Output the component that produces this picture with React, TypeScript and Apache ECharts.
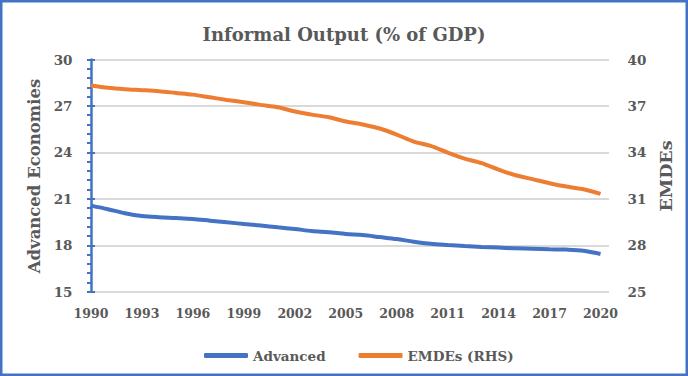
import React, { useEffect, useRef } from "react";
import * as echarts from "echarts";

const years: number[] = [
  1990, 1991, 1992, 1993, 1994, 1995, 1996, 1997, 1998, 1999, 2000, 2001, 2002, 2003, 2004, 2005,
  2006, 2007, 2008, 2009, 2010, 2011, 2012, 2013, 2014, 2015, 2016, 2017, 2018, 2019, 2020,
];
const advanced: number[] = [
  20.56, 20.33, 20.07, 19.89, 19.81, 19.76, 19.7, 19.59, 19.48, 19.38, 19.27, 19.16, 19.05, 18.92,
  18.84, 18.73, 18.66, 18.53, 18.4, 18.23, 18.1, 18.02, 17.95, 17.89, 17.85, 17.8, 17.78, 17.74,
  17.72, 17.65, 17.44,
];
const emdes: number[] = [
  38.32, 38.17, 38.08, 38.02, 37.95, 37.84, 37.73, 37.56, 37.39, 37.24, 37.07, 36.92, 36.64, 36.44,
  36.27, 36.0, 35.8, 35.54, 35.15, 34.7, 34.42, 33.99, 33.6, 33.3, 32.89, 32.52, 32.27, 32.01,
  31.79, 31.62, 31.32,
];
const seriesNames: string[] = ["Advanced", "EMDEs (RHS)"];
const titleText = "Informal Output (% of GDP)";
const leftAxisName = "Advanced Economies";
const rightAxisName = "EMDEs";

const FONT = "DejaVu Serif";
const TEXT = "#595959";
const BLUE = "#4472C4";
const ORANGE = "#ED7D31";
const GRID = "#D9D9D9";

export default function App() {
  const ref = useRef<HTMLDivElement>(null);
  useEffect(() => {
    if (!ref.current) return;
    const chart = echarts.init(ref.current, null, { renderer: "svg" });
    chart.setOption({
      animation: false,
      backgroundColor: "#fff",
      textStyle: { fontFamily: FONT },
      title: {
        text: titleText,
        left: "center",
        top: 20,
        textStyle: { fontFamily: FONT, fontWeight: "bold", fontSize: 18, color: TEXT },
      },
      graphic: [
        {
          type: "rect",
          shape: { x: 1.25, y: 1.25, width: 685.5, height: 373.5 },
          style: { fill: "none", stroke: BLUE, lineWidth: 2.5 },
          z: 100,
        },
        {
          type: "text",
          x: 34,
          y: 176,
          rotation: Math.PI / 2,
          style: {
            text: leftAxisName,
            fontFamily: FONT,
            fontWeight: "bold",
            fontSize: 16.5,
            fill: TEXT,
            align: "center",
            verticalAlign: "middle",
          },
        },
        {
          type: "text",
          x: 666,
          y: 176,
          rotation: Math.PI / 2,
          style: {
            text: rightAxisName,
            fontFamily: FONT,
            fontWeight: "bold",
            fontSize: 17.5,
            fill: TEXT,
            align: "center",
            verticalAlign: "middle",
          },
        },
      ],
      legend: {
        left: 199,
        top: 343.5,
        itemWidth: 44,
        itemHeight: 5,
        itemGap: 33,
        icon: "roundRect",
        textStyle: { fontFamily: FONT, fontWeight: "bold", fontSize: 13.5, color: TEXT },
        data: seriesNames,
      },
      grid: { left: 91, right: 79, top: 59.5, bottom: 84.3 },
      xAxis: {
        type: "value",
        min: 1990,
        max: 2020.5,
        interval: 3,
        axisLine: { show: false },
        axisTick: { show: false },
        splitLine: { show: false },
        axisLabel: {
          margin: 15.5,
          fontFamily: FONT,
          fontWeight: "bold",
          fontSize: 12.5,
          color: TEXT,
          formatter: (v: number) => (v % 1 === 0 ? String(v) : ""),
        },
      },
      yAxis: [
        {
          type: "value",
          position: "left",
          min: 15,
          max: 30,
          interval: 3,
          axisLine: { show: true, lineStyle: { color: BLUE, width: 2.5 } },
          axisTick: { show: true, length: 4, lineStyle: { color: BLUE, width: 2 } },
          minorTick: { show: true, splitNumber: 5, length: 4, lineStyle: { color: BLUE, width: 2 } },
          splitLine: { show: true, lineStyle: { color: GRID, width: 2 } },
          axisLabel: { margin: 18.5, fontFamily: FONT, fontWeight: "bold", fontSize: 13.5, color: TEXT },
        },
        {
          type: "value",
          position: "right",
          min: 25,
          max: 40,
          interval: 3,
          axisLine: { show: false },
          axisTick: { show: false },
          splitLine: { show: false },
          axisLabel: { margin: 18.5, fontFamily: FONT, fontWeight: "bold", fontSize: 13.5, color: TEXT },
        },
        {
          type: "value",
          position: "left",
          min: 15,
          max: 30,
          interval: 3,
          axisLine: { show: false },
          axisTick: { show: true, inside: true, length: 4, lineStyle: { color: BLUE, width: 2 } },
          splitLine: { show: false },
          axisLabel: { show: false },
        },
      ],
      series: [
        {
          name: seriesNames[0],
          type: "line",
          yAxisIndex: 0,
          data: years.map((y, i) => [y, advanced[i]]),
          smooth: 0.3,
          symbol: "none",
          lineStyle: { color: BLUE, width: 4 },
          itemStyle: { color: BLUE },
        },
        {
          name: seriesNames[1],
          type: "line",
          yAxisIndex: 1,
          data: years.map((y, i) => [y, emdes[i]]),
          smooth: 0.3,
          symbol: "none",
          lineStyle: { color: ORANGE, width: 4 },
          itemStyle: { color: ORANGE },
        },
      ],
    });
    return () => chart.dispose();
  }, []);
  return (
    <div
      ref={ref}
      style={{ position: "absolute", left: 0, top: 0, width: 688, height: 376 }}
    />
  );
}
